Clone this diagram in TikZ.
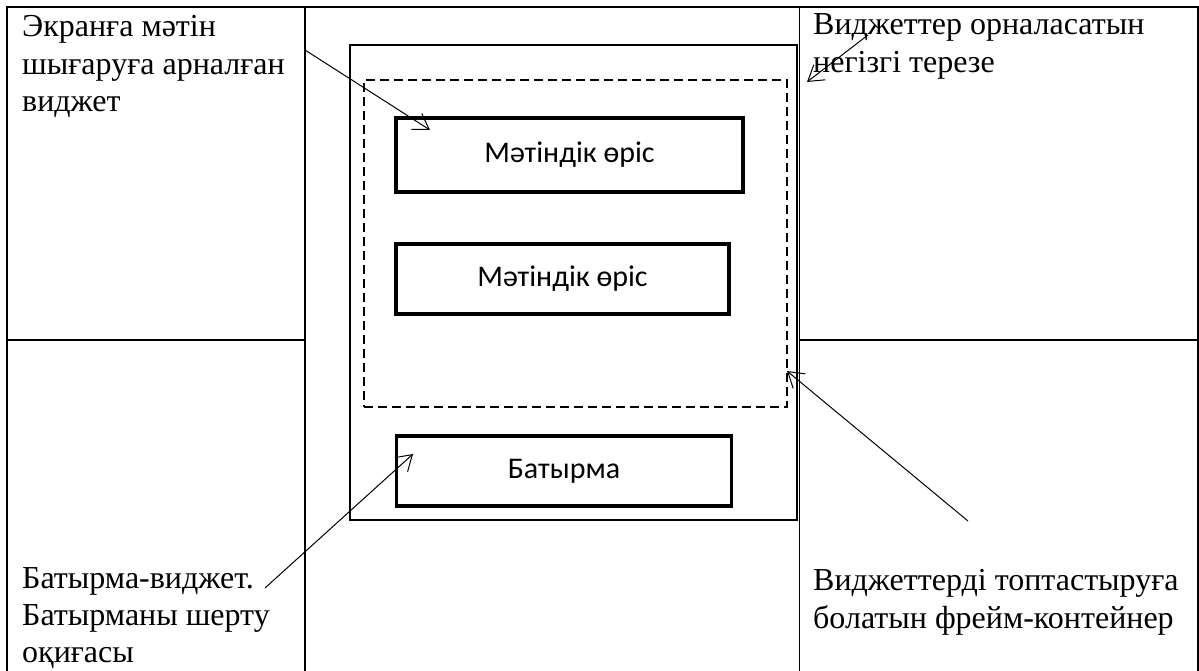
\documentclass[tikz,border=0pt]{standalone}
\usepackage{fontspec}
\setmainfont{Liberation Serif}
\newfontfamily\calib{Carlito}
\usetikzlibrary{arrows.meta}
\tikzset{
  gridline/.style={line width=1.3pt},
  winbox/.style={draw, line width=2.6pt, inner sep=0pt},
  frmbox/.style={draw, line width=2.2pt, dash pattern=on 9pt off 5pt, inner sep=0pt},
  fieldbox/.style={draw, line width=3.8pt, inner sep=0pt, font=\calib\fontsize{30}{36}\selectfont},
  lbl/.style={anchor=base west, inner sep=0pt, font=\fontsize{32}{38}\selectfont},
  ptr/.style={line width=1pt, -{Straight Barb[length=15pt,width=19pt]}}
}
\begin{document}
\begin{tikzpicture}[x=1pt,y=-1pt]
\useasboundingbox (0,0) rectangle (1199,671);
% table grid
\draw[gridline] (7,671) -- (7,7) -- (1198,7) -- (1198,671);
\draw[gridline] (305,7) -- (305,671);
\draw[gridline] (799.5,7) -- (799.5,671);
\draw[gridline] (7,340) -- (305,340);
\draw[gridline] (799.5,340) -- (1198,340);
% window and frame
\node[winbox, minimum width=447pt, minimum height=475pt] (win) at (573.5,282.5) {};
\node[frmbox, minimum width=423pt, minimum height=327pt] (frm) at (575.5,243.5) {};
% fields
\node[fieldbox, minimum width=347pt, minimum height=74pt] (f1) at (569.5,155) {Мәтіндік өріс};
\node[fieldbox, minimum width=333pt, minimum height=70pt] (f2) at (562.5,279) {Мәтіндік өріс};
\node[fieldbox, minimum width=335pt, minimum height=70pt] (btn) at (564,471) {Батырма};
% labels
\node[lbl] (t1a) at (22,37) {Экранға мәтін};
\node[lbl] (t1b) at (22,74.5) {шығаруға арналған};
\node[lbl] (t1c) at (22,112) {виджет};
\node[lbl] (t2a) at (813,35) {Виджеттер орналасатын};
\node[lbl] (t2b) at (813,72.5) {негізгі терезе};
\node[lbl] (t3a) at (22,588) {Батырма-виджет.};
\node[lbl] (t3b) at (22,625) {Батырманы шерту};
\node[lbl] (t3c) at (22,662) {оқиғасы};
\node[lbl] (t4a) at (813,590) {Виджеттерді топтастыруға};
\node[lbl] (t4b) at (813,628) {болатын фрейм-контейнер};
% pointer coordinates
\coordinate (s1) at (305,50);
\coordinate (e1) at (430,130);
\coordinate (s2) at (868,35);
\coordinate (e2) at (807,82);
\coordinate (s3) at (265,588);
\coordinate (e3) at (413,454);
\coordinate (s4) at (968,521);
\coordinate (e4) at (787,371);
\draw[ptr] (s1) -- (e1);
\draw[ptr] (s2) -- (e2);
\draw[ptr] (s3) -- (e3);
\draw[ptr] (s4) -- (e4);
\end{tikzpicture}
\end{document}
